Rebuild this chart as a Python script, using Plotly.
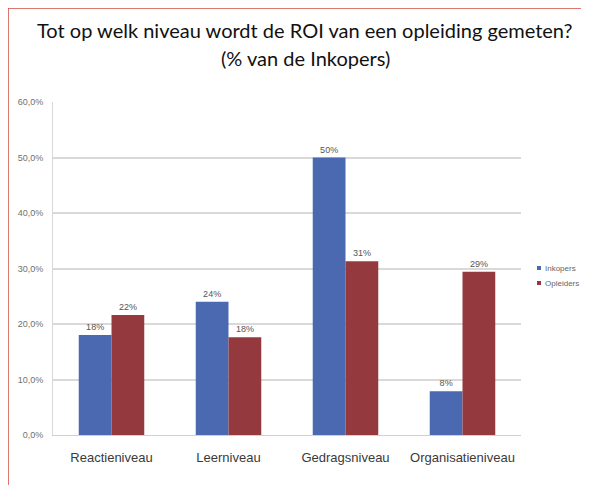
import plotly.graph_objects as go

categories = ["Reactieniveau", "Leerniveau", "Gedragsniveau", "Organisatieniveau"]
inkopers = [18.0, 24.0, 50.0, 7.9]
opleiders = [21.6, 17.6, 31.3, 29.4]
inkopers_labels = ["18%", "24%", "50%", "8%"]
opleiders_labels = ["22%", "18%", "31%", "29%"]
series_names = ["Inkopers", "Opleiders"]
series_colors = ["#4a69b0", "#943a3e"]
y_ticks = [0, 10, 20, 30, 40, 50, 60]
y_tick_labels = ["0,0%", "10,0%", "20,0%", "30,0%", "40,0%", "50,0%", "60,0%"]

# page body has an 8px margin; work in window pixels and shift
OFF = 8
WIN_W, WIN_H = 589, 485
W, H = WIN_W - OFF, WIN_H - OFF
# plot area in window pixels
PL, PR, PT, PB = 53, 521, 102, 435
ml, mr, mt, mb = PL - OFF, WIN_W - PR, PT - OFF, WIN_H - PB
pw, ph = PR - PL, PB - PT

def px_x(p):
    return (p - PL) / pw

def px_y(p):
    return (PB - p) / ph

NARROW = "Liberation Sans Narrow, Arial Narrow, sans-serif"

fig = go.Figure()
for name, vals, labels, col in [
    (series_names[0], inkopers, inkopers_labels, series_colors[0]),
    (series_names[1], opleiders, opleiders_labels, series_colors[1]),
]:
    fig.add_trace(go.Bar(
        x=categories, y=vals, name=name,
        marker=dict(color=col, line=dict(width=0)),
        text=labels, textposition="outside",
        textfont=dict(size=9, color="#555555", family=NARROW),
        cliponaxis=False, showlegend=False,
    ))

shapes = [
    dict(type="line", xref="paper", yref="paper",
         x0=px_x(8), y0=px_y(8), x1=px_x(620), y1=px_y(8),
         line=dict(color="#cc4b3a", width=1.5)),
    dict(type="line", xref="paper", yref="paper",
         x0=px_x(8), y0=px_y(8), x1=px_x(8), y1=px_y(520),
         line=dict(color="#cc4b3a", width=1.5)),
]
annotations = [
    dict(text="Tot op welk niveau wordt de ROI van een opleiding gemeten?",
         xref="paper", yref="paper", x=px_x(305), y=px_y(30),
         xanchor="center", yanchor="middle", showarrow=False,
         font=dict(size=20, color="#111111", family="Lato, Open Sans, sans-serif")),
    dict(text="(% van de Inkopers)",
         xref="paper", yref="paper", x=px_x(305), y=px_y(58),
         xanchor="center", yanchor="middle", showarrow=False,
         font=dict(size=20, color="#111111", family="Lato, Open Sans, sans-serif")),
]
# custom compact legend
for i, (name, col) in enumerate(zip(series_names, series_colors)):
    yc = 268 + 15 * i
    shapes.append(dict(type="rect", xref="paper", yref="paper",
                       x0=px_x(537), x1=px_x(541), y0=px_y(yc - 2), y1=px_y(yc + 2),
                       fillcolor=col, line=dict(width=0)))
    annotations.append(dict(text=name, xref="paper", yref="paper",
                            x=px_x(543), y=px_y(yc), xanchor="left", yanchor="middle",
                            showarrow=False,
                            font=dict(size=8, color="#666666", family=NARROW)))

fig.update_layout(
    width=W, height=H,
    margin=dict(l=ml, r=mr, t=mt, b=mb, autoexpand=False),
    paper_bgcolor="white", plot_bgcolor="white",
    barmode="group", bargap=0.44, bargroupgap=0,
    showlegend=False,
    xaxis=dict(
        showgrid=False, showline=True, linecolor="#d0d0d0", linewidth=1,
        ticks="", tickfont=dict(size=13, color="#3a3a3a", family=NARROW),
        ticklabelstandoff=10,
    ),
    yaxis=dict(
        range=[0, 60], tickvals=y_ticks, ticktext=y_tick_labels,
        showgrid=True, gridcolor="#d9d9d9", gridwidth=2,
        showline=True, linecolor="#d8d8d8", linewidth=1,
        zeroline=False, ticks="",
        tickfont=dict(size=9, color="#707070", family=NARROW),
        ticklabelstandoff=7,
    ),
    annotations=annotations,
    shapes=shapes,
)

fig.write_html("out.html")
